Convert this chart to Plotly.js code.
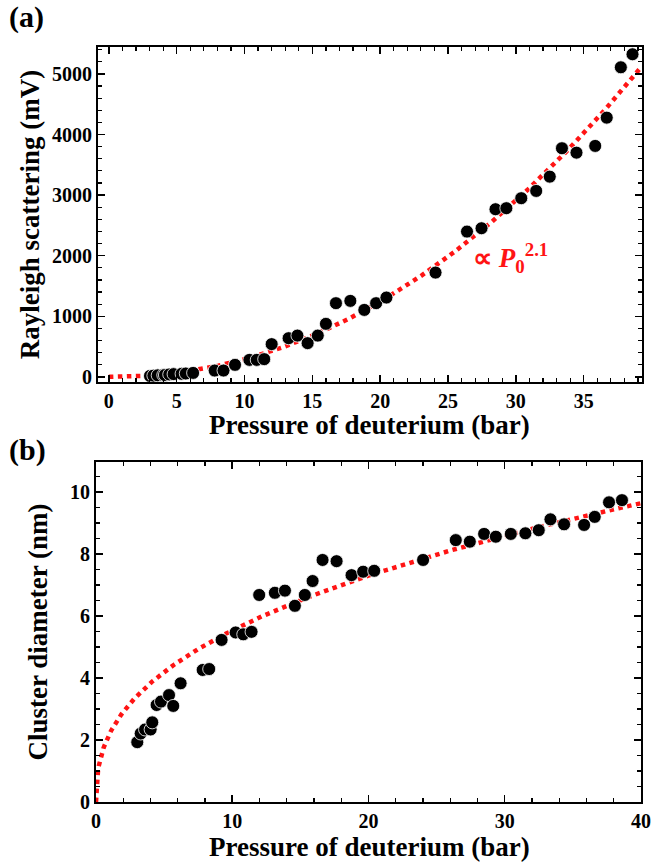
<!DOCTYPE html>
<html>
<head>
<meta charset="utf-8">
<script src="https://cdn.plot.ly/plotly-3.0.1.min.js"></script>
<style>html,body{margin:0;padding:0;background:#fff;}#chart{width:656px;height:867px;}</style>
</head>
<body>
<div id="chart"></div>
<script>
// Panel (a): Rayleigh scattering vs pressure
const pressureA = [3.03, 3.28, 3.6, 4.01, 4.13, 4.45, 4.77, 5.36, 5.67, 6.21, 7.8, 8.45, 9.3, 10.36, 10.9, 11.45, 12.0, 13.25, 13.9, 14.65, 15.4, 16.0, 16.74, 17.8, 18.83, 19.7, 20.46, 24.08, 26.4, 27.47, 28.5, 29.3, 30.4, 31.5, 32.5, 33.4, 34.47, 35.85, 36.7, 37.74, 38.6];
const rayleigh = [15, 20, 25, 30, 30, 40, 45, 50, 55, 65, 104, 104, 198, 280, 280, 292, 540, 638, 681, 556, 681, 875, 1216, 1254, 1105, 1216, 1309, 1721, 2398, 2453, 2767, 2784, 2949, 3069, 3305, 3774, 3701, 3812, 4279, 5110, 5325];
// Panel (b): Cluster diameter vs pressure
const pressureB = [3.03, 3.28, 3.6, 4.01, 4.13, 4.45, 4.77, 5.36, 5.67, 6.21, 7.83, 8.31, 9.22, 10.25, 10.81, 11.42, 11.98, 13.13, 13.87, 14.6, 15.33, 15.9, 16.63, 17.66, 18.76, 19.61, 20.42, 24.01, 26.41, 27.44, 28.49, 29.35, 30.45, 31.52, 32.5, 33.36, 34.36, 35.83, 36.61, 37.66, 38.61];
const diameter = [1.93, 2.21, 2.34, 2.34, 2.57, 3.13, 3.24, 3.45, 3.1, 3.83, 4.26, 4.29, 5.23, 5.47, 5.41, 5.49, 6.68, 6.75, 6.82, 6.33, 6.68, 7.13, 7.81, 7.77, 7.32, 7.43, 7.46, 7.81, 8.45, 8.4, 8.65, 8.56, 8.65, 8.67, 8.77, 9.12, 8.96, 8.94, 9.2, 9.67, 9.74];
// Tick labels
const ticksA_x = [0, 5, 10, 15, 20, 25, 30, 35];
const ticksA_y = [0, 1000, 2000, 3000, 4000, 5000];
const ticksB_x = [0, 10, 20, 30, 40];
const ticksB_y = [0, 2, 4, 6, 8, 10];
// Fit parameters (power laws)
const fitA = {coef: 2.30, exponent: 2.1, xmax: 39.3};
const fitB = {coef: 2.204, exponent: 0.4, xmax: 40};

function fitCurve(fit, n) {
  const xs = [], ys = [];
  for (let i = 0; i <= n; i++) {
    const x = fit.xmax * i / n;
    xs.push(x); ys.push(fit.coef * Math.pow(x, fit.exponent));
  }
  return {xs, ys};
}
const cA = fitCurve(fitA, 400);
const cB = fitCurve(fitB, 800);

const serif = "Liberation Serif, Times New Roman, serif";
const tickFont = {family: serif, size: 20, color: '#000', weight: 700};
const titleFont = {family: serif, size: 27, color: '#000', weight: 700};
const red = '#ff1414';

const markerStyle = {color: '#000', size: 13, line: {color: '#fff', width: 0.8}};

const traces = [
  {x: cA.xs, y: cA.ys, mode: 'lines', line: {color: red, width: 4.5, dash: 'dot'}, xaxis: 'x', yaxis: 'y', hoverinfo: 'skip'},
  {x: pressureA, y: rayleigh, mode: 'markers', marker: markerStyle, xaxis: 'x', yaxis: 'y'},
  {x: cB.xs, y: cB.ys, mode: 'lines', line: {color: red, width: 4.5, dash: 'dot'}, xaxis: 'x2', yaxis: 'y2', hoverinfo: 'skip'},
  {x: pressureB, y: diameter, mode: 'markers', marker: markerStyle, xaxis: 'x2', yaxis: 'y2'}
];

const axisCommon = {
  showline: true, linecolor: '#000', linewidth: 2, mirror: 'allticks',
  ticks: 'inside', ticklen: 7, tickwidth: 1.5, tickcolor: '#000',
  showgrid: false, zeroline: false, tickfont: tickFont
};

const layout = {
  width: 656, height: 867,
  margin: {l: 96, r: 14, t: 47, b: 65},
  paper_bgcolor: '#fff', plot_bgcolor: '#fff',
  showlegend: false,
  xaxis: Object.assign({}, axisCommon, {
    domain: [0.0037, 1], anchor: 'y', range: [-0.8, 39.3],
    tickvals: ticksA_x,
    minor: {dtick: 1, tick0: 0, ticks: 'inside', ticklen: 4, tickcolor: '#000', tickwidth: 1.2}
  }),
  yaxis: Object.assign({}, axisCommon, {
    domain: [0.5563, 1], anchor: 'x', range: [-85, 5445],
    tickvals: ticksA_y,
    minor: {dtick: 200, tick0: 0, ticks: 'inside', ticklen: 4, tickcolor: '#000', tickwidth: 1.2},
    title: {text: 'Rayleigh scattering (mV)', font: titleFont, standoff: 5}
  }),
  xaxis2: Object.assign({}, axisCommon, {
    domain: [0, 0.998], anchor: 'y2', range: [0, 40],
    tickvals: ticksB_x,
    minor: {dtick: 2, tick0: 0, ticks: 'inside', ticklen: 4, tickcolor: '#000', tickwidth: 1.2}
  }),
  yaxis2: Object.assign({}, axisCommon, {
    domain: [0, 0.4503], anchor: 'x2', range: [0, 10.97],
    tickvals: ticksB_y,
    minor: {dtick: 0.5, tick0: 0, ticks: 'inside', ticklen: 4, tickcolor: '#000', tickwidth: 1.2},
    title: {text: 'Cluster diameter (nm)', font: titleFont, standoff: 15}
  }),
  annotations: [
    {text: 'Pressure of deuterium (bar)', xref: 'paper', yref: 'paper', x: 0.5, y: 0.4993, xanchor: 'center', yanchor: 'middle', showarrow: false, font: titleFont},
    {text: 'Pressure of deuterium (bar)', xref: 'paper', yref: 'paper', x: 0.5, y: -0.0596, xanchor: 'center', yanchor: 'middle', showarrow: false, font: titleFont},
    {text: '(a)', xref: 'paper', yref: 'paper', x: -0.163, y: 1.04, xanchor: 'left', yanchor: 'middle', showarrow: false,
     font: {family: serif, size: 30, color: '#000', weight: 700}},
    {text: '(b)', xref: 'paper', yref: 'paper', x: -0.163, y: 0.466, xanchor: 'left', yanchor: 'middle', showarrow: false,
     font: {family: serif, size: 30, color: '#000', weight: 700}},
    {text: '∝ <i>P</i><sub>0</sub><sup>2.1</sup>', xref: 'x', yref: 'y', x: 29.6, y: 1964, xanchor: 'center', yanchor: 'middle', showarrow: false,
     font: {family: serif, size: 27, color: red, weight: 700}}
  ]
};

Plotly.newPlot('chart', traces, layout, {staticPlot: true, displayModeBar: false});
</script>
</body>
</html>
